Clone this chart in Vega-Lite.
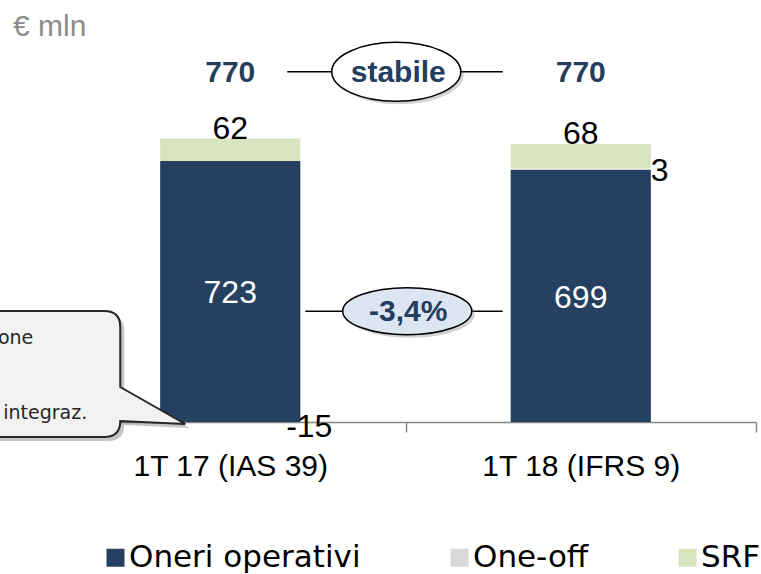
{
  "$schema": "https://vega.github.io/schema/vega-lite/v6.json",
  "width": 701,
  "height": 361,
  "autosize": {"type": "none"},
  "padding": {"left": 55, "top": 61, "right": 5, "bottom": 152},
  "background": "white",
  "title": {"text": "€ mln", "anchor": "start", "frame": "group", "dx": -42, "offset": -3, "font": "Liberation Sans", "fontSize": 30, "fontWeight": "normal", "color": "#8c8c8c"},
  "datasets": {
    "costs": [
      {"cat": "1T 17 (IAS 39)", "comp": "Oneri operativi", "v": 723, "ord": 1},
      {"cat": "1T 17 (IAS 39)", "comp": "One-off", "v": -15, "ord": 2},
      {"cat": "1T 17 (IAS 39)", "comp": "SRF", "v": 62, "ord": 3},
      {"cat": "1T 18 (IFRS 9)", "comp": "Oneri operativi", "v": 699, "ord": 1},
      {"cat": "1T 18 (IFRS 9)", "comp": "One-off", "v": 3, "ord": 2},
      {"cat": "1T 18 (IFRS 9)", "comp": "SRF", "v": 68, "ord": 3}
    ]
  },
  "layer": [
    {
      "data": {"name": "costs"},
      "transform": [
        {"stack": "v", "groupby": ["cat"], "sort": [{"field": "ord", "order": "ascending"}], "as": ["v0", "v1"]},
        {"filter": "datum.comp != 'One-off'"}
      ],
      "mark": {"type": "bar", "width": {"band": 0.4}},
      "encoding": {
        "x": {"field": "cat", "type": "nominal", "scale": {"domain": ["1T 17 (IAS 39)", "1T 18 (IFRS 9)"], "paddingInner": 0, "paddingOuter": 0},
          "axis": {"title": null, "labelAngle": 0, "tickBand": "extent", "domainColor": "#868686", "domainWidth": 1.5, "tickColor": "#868686", "tickWidth": 1.5, "tickSize": 10, "labelFont": "Liberation Sans", "labelFontSize": 30, "labelColor": "#000000", "labelPadding": 19, "labelLimit": 400, "grid": false}},
        "y": {"field": "v0", "type": "quantitative", "scale": {"domain": [0, 1000], "nice": false, "zero": false}, "axis": null},
        "y2": {"field": "v1"},
        "color": {"field": "comp", "type": "nominal", "scale": {"domain": ["Oneri operativi", "One-off", "SRF"], "range": ["#264061", "#D9D9D9", "#D7E4BD"]},
          "legend": {"orient": "none", "legendX": 45, "legendY": 481, "direction": "horizontal", "title": null, "symbolType": "square", "symbolSize": 324, "symbolStrokeWidth": 0, "symbolOpacity": 1, "labelFont": "DejaVu Sans", "labelFontSize": 31, "labelColor": "#000000", "labelOffset": -2, "columnPadding": 83, "labelLimit": 400}}
      }
    },
    {
      "data": {"name": "costs"},
      "transform": [
        {"stack": "v", "groupby": ["cat"], "sort": [{"field": "ord", "order": "ascending"}], "as": ["v0", "v1"]},
        {"calculate": "(datum.v0 + datum.v1) / 2", "as": "vmid"},
        {"filter": "datum.comp == 'Oneri operativi'"}
      ],
      "mark": {"type": "text", "font": "Liberation Sans", "fontSize": 32, "color": "#ffffff", "baseline": "middle", "dy": 2},
      "encoding": {
        "x": {"field": "cat", "type": "nominal"},
        "y": {"field": "vmid", "type": "quantitative", "axis": null},
        "text": {"field": "v", "type": "nominal"}
      }
    },
    {
      "data": {"name": "costs"},
      "transform": [
        {"stack": "v", "groupby": ["cat"], "sort": [{"field": "ord", "order": "ascending"}], "as": ["v0", "v1"]},
        {"filter": "datum.comp == 'SRF'"}
      ],
      "mark": {"type": "text", "font": "Liberation Sans", "fontSize": 32, "color": "#000000", "baseline": "alphabetic", "dy": 0},
      "encoding": {
        "x": {"field": "cat", "type": "nominal"},
        "y": {"field": "v1", "type": "quantitative", "axis": null},
        "text": {"field": "v", "type": "nominal"}
      }
    },
    {
      "data": {"name": "costs"},
      "transform": [
        {"stack": "v", "groupby": ["cat"], "sort": [{"field": "ord", "order": "ascending"}], "as": ["v0", "v1"]},
        {"calculate": "(datum.v0 + datum.v1) / 2", "as": "vmid"},
        {"filter": "datum.comp == 'One-off'"}
      ],
      "mark": {"type": "text", "font": "Liberation Sans", "fontSize": 32, "color": "#000000", "baseline": "middle", "dx": 79, "dy": 2},
      "encoding": {
        "x": {"field": "cat", "type": "nominal"},
        "y": {"field": "vmid", "type": "quantitative", "axis": null},
        "text": {"field": "v", "type": "nominal"}
      }
    },
    {
      "data": {"name": "costs"},
      "transform": [
        {"aggregate": [{"op": "sum", "field": "v", "as": "tot"}], "groupby": ["cat"]}
      ],
      "mark": {"type": "text", "font": "Liberation Sans", "fontSize": 30, "fontWeight": "bold", "color": "#263E5E", "baseline": "middle", "dy": 1},
      "encoding": {
        "x": {"field": "cat", "type": "nominal"},
        "y": {"datum": 970, "type": "quantitative", "axis": null},
        "text": {"field": "tot", "type": "nominal"}
      }
    },
    {
      "data": {"values": [{}]},
      "mark": {"type": "rule", "color": "#000000", "strokeWidth": 1.5, "xOffset": 57, "x2Offset": -78},
      "encoding": {
        "x": {"datum": "1T 17 (IAS 39)", "type": "nominal"},
        "x2": {"datum": "1T 18 (IFRS 9)"},
        "y": {"datum": 970, "type": "quantitative", "axis": null}
      }
    },
    {
      "data": {"values": [{}]},
      "mark": {"type": "rule", "color": "#000000", "strokeWidth": 1.5, "xOffset": 75, "x2Offset": -78},
      "encoding": {
        "x": {"datum": "1T 17 (IAS 39)", "type": "nominal"},
        "x2": {"datum": "1T 18 (IFRS 9)"},
        "y": {"datum": 307, "type": "quantitative", "axis": null}
      }
    },
    {
      "data": {"values": [{}]},
      "mark": {"type": "point", "shape": "M-1,0A1,0.457,0,1,1,1,0A1,0.457,0,1,1,-1,0Z", "size": 16641, "filled": true, "fill": "#7f7f7f", "opacity": 0.35, "strokeWidth": 0, "xOffset": 169, "yOffset": 3},
      "encoding": {
        "x": {"datum": "1T 17 (IAS 39)", "type": "nominal"},
        "y": {"datum": 970, "type": "quantitative", "axis": null}
      }
    },
    {
      "data": {"values": [{}]},
      "mark": {"type": "point", "shape": "M-1,0A1,0.457,0,1,1,1,0A1,0.457,0,1,1,-1,0Z", "size": 16641, "filled": true, "fill": "#ffffff", "stroke": "#000000", "strokeWidth": 1.5, "opacity": 1, "xOffset": 166},
      "encoding": {
        "x": {"datum": "1T 17 (IAS 39)", "type": "nominal"},
        "y": {"datum": 970, "type": "quantitative", "axis": null}
      }
    },
    {
      "data": {"values": [{}]},
      "mark": {"type": "point", "shape": "M-1,0A1,0.364,0,1,1,1,0A1,0.364,0,1,1,-1,0Z", "size": 16641, "filled": true, "fill": "#7f7f7f", "opacity": 0.35, "strokeWidth": 0, "xOffset": 180, "yOffset": 3},
      "encoding": {
        "x": {"datum": "1T 17 (IAS 39)", "type": "nominal"},
        "y": {"datum": 307, "type": "quantitative", "axis": null}
      }
    },
    {
      "data": {"values": [{}]},
      "mark": {"type": "point", "shape": "M-1,0A1,0.364,0,1,1,1,0A1,0.364,0,1,1,-1,0Z", "size": 16641, "filled": true, "fill": "#DCE6F2", "stroke": "#000000", "strokeWidth": 1.5, "opacity": 1, "xOffset": 177},
      "encoding": {
        "x": {"datum": "1T 17 (IAS 39)", "type": "nominal"},
        "y": {"datum": 307, "type": "quantitative", "axis": null}
      }
    },
    {
      "data": {"values": [{}]},
      "mark": {"type": "text", "text": "stabile", "font": "Liberation Sans", "fontSize": 30, "fontWeight": "bold", "color": "#263E5E", "baseline": "middle", "dx": 168, "dy": 1},
      "encoding": {
        "x": {"datum": "1T 17 (IAS 39)", "type": "nominal"},
        "y": {"datum": 970, "type": "quantitative", "axis": null}
      }
    },
    {
      "data": {"values": [{}]},
      "mark": {"type": "text", "text": "-3,4%", "font": "Liberation Sans", "fontSize": 30, "fontWeight": "bold", "color": "#263E5E", "baseline": "middle", "dx": 178, "dy": 1},
      "encoding": {
        "x": {"datum": "1T 17 (IAS 39)", "type": "nominal"},
        "y": {"datum": 307, "type": "quantitative", "axis": null}
      }
    },
    {
      "data": {"values": [{}]},
      "mark": {"type": "point", "shape": "M-2.5,-1.11L-1.26,-1.11Q-1.1,-1.11,-1.1,-0.95L-1.1,-0.35L-0.45,0.02L-1.1,-0.01Q-1.1,0.15,-1.26,0.15L-2.5,0.15Z", "size": 40000, "filled": true, "fill": "#595959", "opacity": 0.35, "strokeWidth": 0, "xOffset": 4, "yOffset": 4},
      "encoding": {
        "x": {"datum": "1T 17 (IAS 39)", "type": "nominal"},
        "y": {"datum": 0, "type": "quantitative", "axis": null}
      }
    },
    {
      "data": {"values": [{}]},
      "mark": {"type": "point", "shape": "M-2.5,-1.11L-1.26,-1.11Q-1.1,-1.11,-1.1,-0.95L-1.1,-0.35L-0.45,0.02L-1.1,-0.01Q-1.1,0.15,-1.26,0.15L-2.5,0.15Z", "size": 40000, "filled": true, "fill": "#F2F2F2", "stroke": "#262626", "strokeWidth": 2, "opacity": 1},
      "encoding": {
        "x": {"datum": "1T 17 (IAS 39)", "type": "nominal"},
        "y": {"datum": 0, "type": "quantitative", "axis": null}
      }
    },
    {
      "data": {"values": [{}]},
      "mark": {"type": "text", "text": "one", "font": "DejaVu Sans", "fontSize": 19, "color": "#262626", "align": "right", "baseline": "middle", "dx": -197},
      "encoding": {
        "x": {"datum": "1T 17 (IAS 39)", "type": "nominal"},
        "y": {"datum": 233, "type": "quantitative", "axis": null}
      }
    },
    {
      "data": {"values": [{}]},
      "mark": {"type": "text", "text": "integraz.", "font": "DejaVu Sans", "fontSize": 19, "color": "#262626", "align": "right", "baseline": "middle", "dx": -143},
      "encoding": {
        "x": {"datum": "1T 17 (IAS 39)", "type": "nominal"},
        "y": {"datum": 25, "type": "quantitative", "axis": null}
      }
    }
  ],
  "config": {"view": {"stroke": null}}
}
